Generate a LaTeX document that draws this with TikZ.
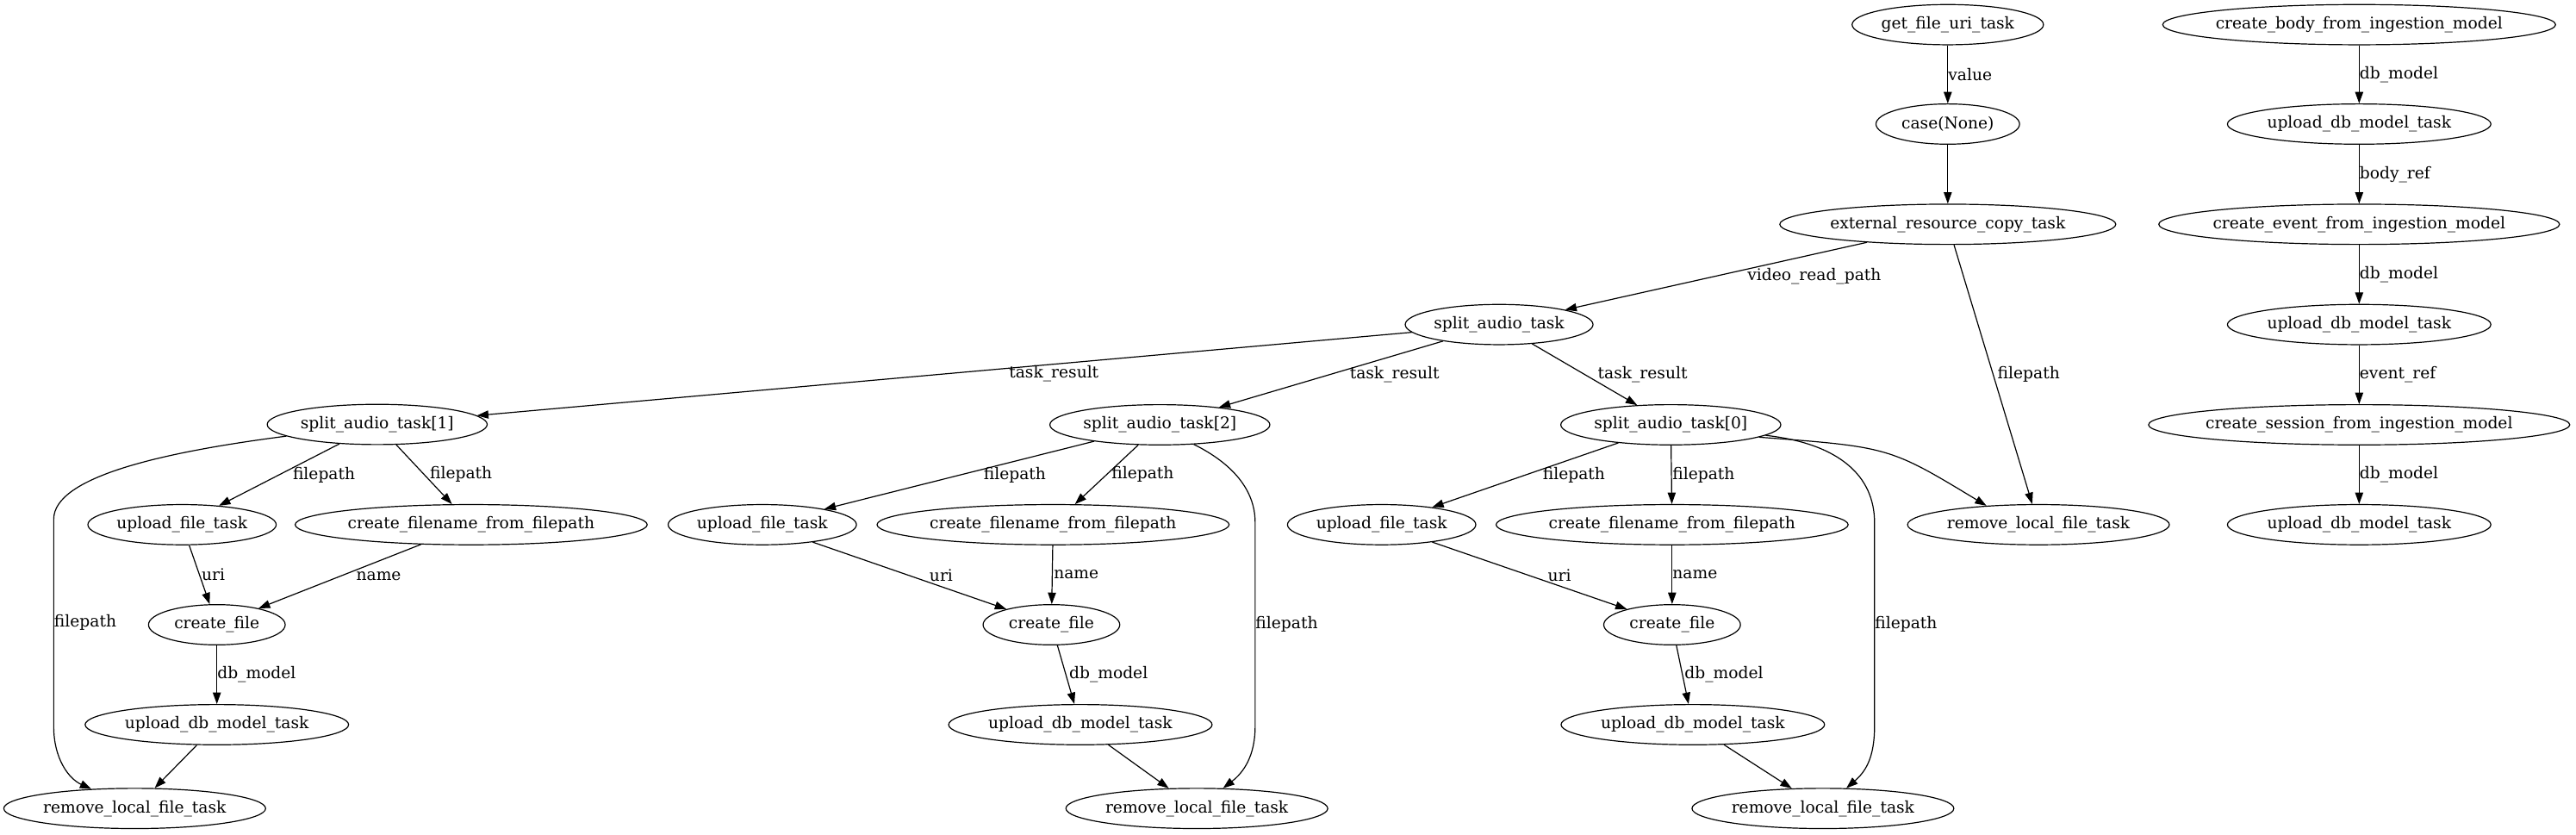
\documentclass[tikz,border=0pt]{standalone}
\usepackage{fontspec}
\setmainfont{DejaVu Serif}
\usetikzlibrary{arrows.meta, shapes.geometric}

\begin{document}
\begin{tikzpicture}[
    x=1.4302pt, y=-1.4302pt,
    task/.style={ellipse, draw, line width=0.9pt, inner xsep=1pt, inner ysep=0pt, minimum height=35pt, font=\fontsize{14}{16}\selectfont},
    wide/.style={inner xsep=-4pt},
    arrow/.style={-{Triangle[length=10pt, width=7pt]}, line width=0.9pt},
    lbl/.style={anchor=west, inner sep=0pt, font=\fontsize{14}{16}\selectfont},
]
\useasboundingbox (0,0) rectangle (1568,508);

% Top: uri and resource copy
\node[task] (geturi) at (1185.6, 15) {get\_file\_uri\_task};
\node[task, minimum width=125pt] (casenone) at (1185.6, 75.5) {case(None)};
\node[task] (extcopy) at (1185.6, 136.5) {external\_resource\_copy\_task};
\node[task] (split) at (912.5, 197.5) {split\_audio\_task};
\node[task] (rm0) at (1240.8, 319.3) {remove\_local\_file\_task};

\draw[arrow] (geturi) -- node[lbl] {value} (casenone);
\draw[arrow] (casenone) -- (extcopy);
\draw[arrow] (extcopy) -- node[lbl, xshift=27pt] {video\_read\_path} (split);
\draw[arrow] (extcopy) -- node[lbl, xshift=3.5pt] {filepath} (rm0);

% Split parts
\node[task] (split1) at (229.6, 258.3) {split\_audio\_task[1]};
\node[task] (split2) at (706, 258.5) {split\_audio\_task[2]};
\node[task] (split0) at (1017, 258.5) {split\_audio\_task[0]};

\draw[arrow] (split) -- node[lbl, xshift=56pt] {task\_result} (split1);
\draw[arrow] (split) -- node[lbl, xshift=16pt] {task\_result} (split2);
\draw[arrow] (split) -- node[lbl, xshift=11pt] {task\_result} (split0);

% Part 1
\node[task] (up1) at (110.8, 319.3) {upload\_file\_task};
\node[task] (cf1) at (286.8, 319.3) {create\_filename\_from\_filepath};
\node[task, minimum width=119pt] (cr1) at (132, 380.2) {create\_file};
\node[task] (ud1) at (132, 441) {upload\_db\_model\_task};
\node[task] (rm1) at (82, 492) {remove\_local\_file\_task};

\draw[arrow] (split1) -- node[lbl, xshift=11.5pt] {filepath} (up1);
\draw[arrow] (split1) -- node[lbl, xshift=4.7pt] {filepath} (cf1);
\draw[arrow] (up1) -- node[lbl, xshift=1.5pt] {uri} (cr1);
\draw[arrow] (cf1) -- node[lbl, xshift=14pt] {name} (cr1);
\draw[arrow] (cr1) -- node[lbl] {db\_model} (ud1);
\draw[arrow] (ud1) -- (rm1);
\draw[arrow] (split1) .. controls (100,275) and (32.7,290) .. (32.7,316)
    -- node[lbl] {filepath} (32.7,442) .. controls (32.7,462) and (42,474) .. (rm1);

% Part 2
\node[task] (up2) at (464, 319.3) {upload\_file\_task};
\node[task] (cf2) at (641, 319.3) {create\_filename\_from\_filepath};
\node[task, minimum width=119pt] (cr2) at (640, 380.2) {create\_file};
\node[task] (ud2) at (657.6, 441) {upload\_db\_model\_task};
\node[task] (rm2) at (728.5, 492) {remove\_local\_file\_task};

\draw[arrow] (split2) -- node[lbl, xshift=21pt] {filepath} (up2);
\draw[arrow] (split2) -- node[lbl, xshift=4pt] {filepath} (cf2);
\draw[arrow] (up2) -- node[lbl, xshift=17pt] {uri} (cr2);
\draw[arrow] (cf2) -- node[lbl, xshift=1pt] {name} (cr2);
\draw[arrow] (cr2) -- node[lbl, xshift=2.5pt] {db\_model} (ud2);
\draw[arrow] (ud2) -- (rm2);
\draw[arrow] (split2.-30) .. controls (750,282) and (764,298) .. (764,318)
    -- node[lbl] {filepath} (764,442) .. controls (764,460) and (757,470) .. (rm2);

% Part 0
\node[task] (up3) at (841, 319.3) {upload\_file\_task};
\node[task] (cf3) at (1017.8, 319.3) {create\_filename\_from\_filepath};
\node[task, minimum width=119pt] (cr3) at (1017.8, 380.2) {create\_file};
\node[task] (ud3) at (1030.4, 441) {upload\_db\_model\_task};
\node[task] (rm3) at (1109.6, 492) {remove\_local\_file\_task};

\draw[arrow] (split0) -- node[lbl, xshift=15pt] {filepath} (up3);
\draw[arrow] (split0) -- node[lbl, xshift=0.5pt] {filepath} (cf3);
\draw[arrow] (up3) -- node[lbl, xshift=15.5pt] {uri} (cr3);
\draw[arrow] (cf3) -- node[lbl] {name} (cr3);
\draw[arrow] (cr3) -- node[lbl, xshift=1.5pt] {db\_model} (ud3);
\draw[arrow] (ud3) -- (rm3);
\draw[arrow] (split0) .. controls (1120,270) and (1141,290) .. (1141,318)
    -- node[lbl] {filepath} (1141,442) .. controls (1141,462) and (1135,470) .. (rm3);
\draw[arrow] (split0.-8) .. controls (1150,272) .. (rm0.160);

% Right: ingestion models
\node[task, wide] (body) at (1436, 15) {create\_body\_from\_ingestion\_model};
\node[task] (udbody) at (1436, 75.5) {upload\_db\_model\_task};
\node[task, wide] (event) at (1436, 136.5) {create\_event\_from\_ingestion\_model};
\node[task] (udevent) at (1436, 197.5) {upload\_db\_model\_task};
\node[task, wide] (session) at (1436, 258.5) {create\_session\_from\_ingestion\_model};
\node[task] (udsession) at (1436, 319.3) {upload\_db\_model\_task};

\draw[arrow] (body) -- node[lbl] {db\_model} (udbody);
\draw[arrow] (udbody) -- node[lbl] {body\_ref} (event);
\draw[arrow] (event) -- node[lbl] {db\_model} (udevent);
\draw[arrow] (udevent) -- node[lbl] {event\_ref} (session);
\draw[arrow] (session) -- node[lbl] {db\_model} (udsession);

\end{tikzpicture}
\end{document}
